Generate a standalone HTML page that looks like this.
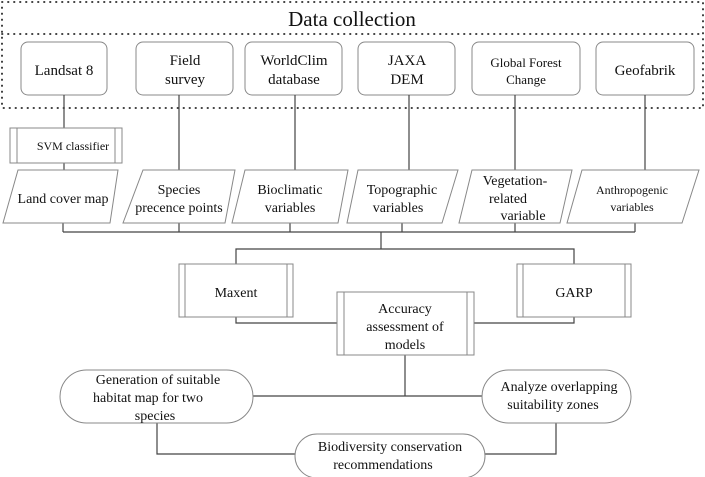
<!DOCTYPE html>
<html><head><meta charset="utf-8"><style>
html,body{margin:0;padding:0;background:#fff;}
svg{display:block;}
svg text{font-family:"Liberation Serif","DejaVu Serif","Times New Roman",serif !important;fill:#111;text-anchor:middle;}
</style></head><body>
<svg width="705" height="477" viewBox="0 0 705 477" xmlns="http://www.w3.org/2000/svg" font-family="Liberation Serif, DejaVu Serif, serif">
<g fill="none" stroke="#222" stroke-width="1.8" stroke-dasharray="0.5 5.5" stroke-linecap="round">
<rect x="2" y="2" width="701" height="106"/>
<line x1="2" y1="34" x2="703" y2="34"/>
</g>
<text x="352" y="26" font-size="21">Data collection</text>
<g fill="#fff" stroke="#888" stroke-width="1">
<rect x="21" y="42" width="86" height="53" rx="7"/>
<rect x="136" y="42" width="97" height="53" rx="7"/>
<rect x="245" y="42" width="97" height="53" rx="7"/>
<rect x="358" y="42" width="97" height="53" rx="7"/>
<rect x="472" y="42" width="108" height="53" rx="7"/>
<rect x="596" y="42" width="98" height="53" rx="7"/>
</g>
<g font-size="15">
<text x="64" y="75">Landsat 8</text>
<text x="185" y="65">Field</text><text x="185" y="84">survey</text>
<text x="294" y="65">WorldClim</text><text x="294" y="84">database</text>
<text x="407" y="65">JAXA</text><text x="407" y="84">DEM</text>
</g>
<g font-size="13">
<text x="526" y="67">Global Forest</text><text x="526" y="84">Change</text>
</g>
<text x="645" y="75" font-size="15">Geofabrik</text>
<g stroke="#444" stroke-width="1.2" fill="none">
<line x1="64" y1="95" x2="64" y2="128"/>
<line x1="64" y1="163" x2="64" y2="170"/>
<line x1="179" y1="95" x2="179" y2="170"/>
<line x1="295" y1="95" x2="295" y2="170"/>
<line x1="409" y1="95" x2="409" y2="170"/>
<line x1="515" y1="95" x2="515" y2="170"/>
<line x1="645" y1="95" x2="645" y2="170"/>
<line x1="63" y1="223" x2="63" y2="232"/>
<line x1="179" y1="223" x2="179" y2="232"/>
<line x1="290" y1="223" x2="290" y2="232"/>
<line x1="402" y1="223" x2="402" y2="232"/>
<line x1="515" y1="223" x2="515" y2="232"/>
<line x1="635" y1="223" x2="635" y2="232"/>
<line x1="63" y1="232" x2="635" y2="232"/>
<line x1="381" y1="232" x2="381" y2="249"/>
<polyline points="236,264 236,249 574,249 574,264"/>
<polyline points="236,317 236,323 337,323"/>
<polyline points="574,317 574,323 474,323"/>
<line x1="405" y1="355" x2="405" y2="396"/>
<line x1="253" y1="396" x2="482" y2="396"/>
<polyline points="157,423 157,454 295,454"/>
<polyline points="556,423 556,454 485,454"/>
</g>
<g fill="#fff" stroke="#888" stroke-width="1">
<rect x="10" y="128" width="112" height="35"/>
<line x1="17" y1="128" x2="17" y2="163"/><line x1="115" y1="128" x2="115" y2="163"/>
<polygon points="18,170 118,170 110,223 3,223"/>
<polygon points="143,170 235,170 225,223 123,223"/>
<polygon points="245,170 348,170 338,223 232,223"/>
<polygon points="358,170 458,170 442,223 347,223"/>
<polygon points="472,170 572,170 560,223 459,223"/>
<polygon points="582,170 699,170 682,223 567,223"/>
<rect x="179" y="264" width="114" height="53"/>
<line x1="185" y1="264" x2="185" y2="317"/><line x1="287" y1="264" x2="287" y2="317"/>
<rect x="517" y="264" width="114" height="53"/>
<line x1="523" y1="264" x2="523" y2="317"/><line x1="625" y1="264" x2="625" y2="317"/>
<rect x="337" y="292" width="137" height="63"/>
<line x1="344" y1="292" x2="344" y2="355"/><line x1="467" y1="292" x2="467" y2="355"/>
<rect x="60" y="370" width="193" height="53" rx="26.5"/>
<rect x="482" y="370" width="149" height="53" rx="26.5"/>
<rect x="295" y="434" width="190" height="44" rx="22"/>
</g>
<text x="73" y="150" font-size="12">SVM classifier</text>
<g font-size="14">
<text x="63" y="203">Land cover map</text>
<text x="179" y="194">Species</text><text x="179" y="212">precence points</text>
<text x="290" y="194">Bioclimatic</text><text x="290" y="212">variables</text>
<text x="402" y="194">Topographic</text><text x="398" y="212">variables</text>
<text x="515" y="185">Vegetation-</text><text x="508" y="203">related</text><text x="523" y="220">variable</text>
</g>
<g font-size="12">
<text x="632" y="194">Anthropogenic</text><text x="632" y="211">variables</text>
</g>
<g font-size="14">
<text x="236" y="297">Maxent</text>
<text x="574" y="297">GARP</text>
<text x="405" y="313">Accuracy</text><text x="405" y="331">assessment of</text><text x="405" y="349">models</text>
<text x="158" y="384">Generation of suitable</text><text x="148" y="402">habitat map for two</text><text x="155" y="420">species</text>
<text x="559" y="391">Analyze overlapping</text><text x="553" y="409">suitability zones</text>
<text x="390" y="451">Biodiversity conservation</text><text x="383" y="469">recommendations</text>
</g>
</svg>
</body></html>
